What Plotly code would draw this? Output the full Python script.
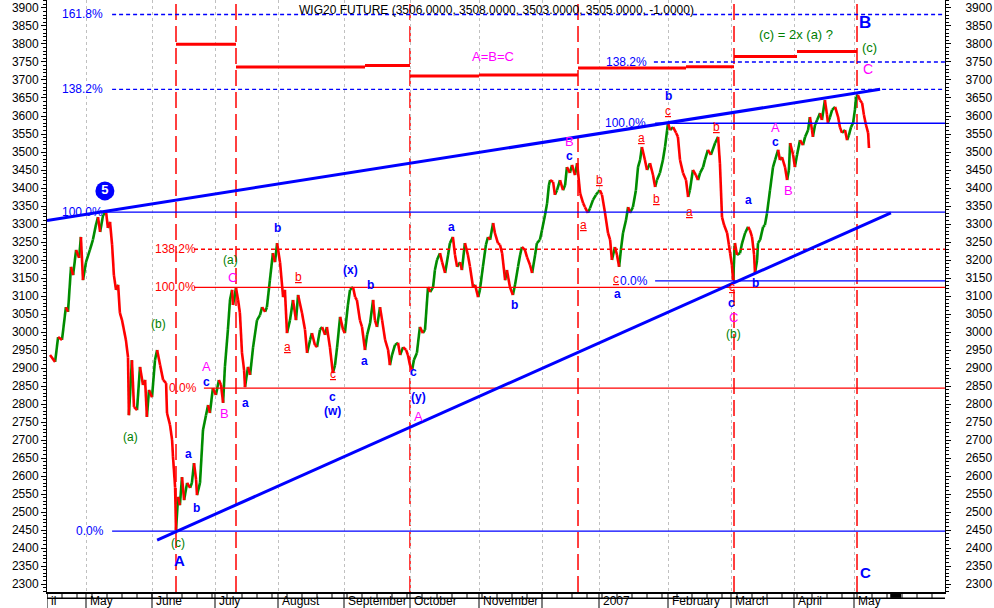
import plotly.graph_objects as go

# ---------------- data (trading-day index, price) ----------------
day = [1.0, 2.7, 3.7, 5.0, 6.3, 7.0, 8.0, 8.7, 9.7, 10.7, 11.3, 12.0, 13.0, 14.3, 15.3, 16.3, 17.0, 17.7, 18.7, 19.7,
       20.3, 21.0, 21.7, 22.3, 23.0, 23.7, 24.3, 25.0, 26.3, 27.0, 27.3, 28.3, 29.0, 30.0, 31.0, 32.0, 32.7, 33.3, 34.0, 35.0,
       36.0, 36.7, 37.7, 38.7, 39.7, 40.0, 41.0, 41.7, 42.0, 42.7, 43.0, 43.7, 44.3, 45.0, 45.7, 46.7, 47.7, 48.3, 49.0, 49.7,
       50.0, 51.0, 52.0, 53.0, 53.7, 54.3, 55.3, 56.3, 57.3, 58.0, 58.7, 59.3, 60.3, 61.0, 61.7, 62.0, 63.0, 63.7, 64.3, 65.0,
       65.7, 66.0, 67.0, 67.7, 68.7, 70.0, 71.0, 71.7, 72.7, 73.3, 74.3, 75.3, 76.0, 76.7, 77.7, 78.7, 79.3, 80.0, 81.0, 82.0,
       83.0, 83.7, 85.0, 86.0, 86.7, 87.7, 88.3, 89.3, 90.0, 91.0, 91.7, 92.7, 93.3, 94.3, 95.3, 96.0, 96.7, 97.7, 98.7, 99.3,
       100.3, 101.0, 102.0, 102.7, 103.3, 104.3, 105.0, 106.0, 106.7, 107.7, 108.7, 109.3, 110.0, 111.0, 111.7, 112.7, 113.7, 114.3, 115.0, 116.0,
       117.0, 117.7, 118.7, 119.7, 120.3, 121.0, 121.7, 122.3, 123.3, 124.3, 125.3, 126.0, 127.0, 127.7, 128.7, 129.3, 130.0, 131.0, 131.7, 132.7,
       133.7, 134.3, 135.3, 136.0, 136.7, 137.7, 138.3, 139.3, 140.3, 141.0, 142.0, 142.7, 143.7, 144.3, 145.3, 146.3, 147.0, 147.7, 148.7, 149.3,
       150.3, 151.0, 151.7, 152.7, 153.3, 154.3, 155.3, 156.0, 157.0, 157.7, 158.3, 159.3, 160.0, 161.0, 161.7, 162.7, 163.3, 164.3, 165.0, 166.0,
       166.7, 167.3, 167.7, 168.7, 169.3, 170.0, 171.0, 172.0, 172.7, 173.3, 174.3, 175.0, 176.0, 176.7, 177.7, 178.7, 179.3, 180.3, 181.0, 182.0,
       183.0, 183.7, 184.3, 185.0, 186.0, 187.0, 187.7, 188.3, 189.3, 190.0, 190.7, 191.3, 192.0, 193.0, 193.7, 194.3, 195.3, 196.3, 197.0, 197.7,
       198.3, 199.3, 200.0, 201.0, 202.0, 202.7, 203.3, 204.3, 205.3, 206.0, 206.7, 207.0, 207.7, 208.7, 209.7, 210.3, 211.0, 212.0, 213.0, 213.7,
       214.3, 215.3, 216.3, 217.0, 217.7, 218.7, 219.3, 220.3, 221.3, 222.7, 223.7, 224.3, 225.0, 225.7, 226.7, 227.3, 227.7, 228.3, 228.7, 229.3,
       230.0, 231.0, 231.7, 232.7, 233.7, 234.3, 235.0, 235.7, 236.0, 236.7, 237.0, 237.7, 238.7, 239.3, 240.0, 241.0, 242.0, 242.7, 243.7, 244.3,
       245.0, 246.0, 246.7, 247.3, 247.7, 248.7, 249.3, 250.0, 251.0, 252.0, 252.7, 253.7, 254.3, 255.0, 255.3, 256.0, 256.7, 257.7, 258.3, 259.3,
       260.0, 260.3, 261.0, 261.7, 262.7, 263.7, 264.3, 265.0, 266.0, 266.7, 267.3, 268.0, 268.7, 269.3, 269.7, 270.3, 271.0, 271.7, 272.3, 273.0,
       273.7, 274.0]
price = [2936, 2917, 2986, 2978, 3069, 3056, 3181, 3158, 3228, 3206, 3264, 3144, 3194, 3228, 3256, 3297, 3319, 3278, 3325, 3333,
         3289, 3306, 3242, 3158, 3117, 3131, 3053, 3033, 2978, 2930, 2769, 2922, 2792, 2783, 2903, 2853, 2867, 2764, 2839, 2819,
         2922, 2950, 2908, 2867, 2858, 2775, 2742, 2700, 2653, 2569, 2450, 2542, 2519, 2597, 2533, 2581, 2567, 2581, 2636, 2589,
         2547, 2581, 2728, 2769, 2797, 2775, 2844, 2825, 2867, 2853, 2803, 2903, 3006, 3089, 3117, 3075, 3122, 3089, 3053, 2942,
         2894, 2847, 2903, 2881, 2958, 3033, 3047, 3069, 3056, 3069, 3144, 3219, 3194, 3247, 3192, 3097, 3117, 2997, 3033, 3089,
         3033, 3103, 3053, 3006, 2942, 2978, 2997, 2964, 2958, 3006, 3014, 2992, 3014, 2958, 2886, 2908, 2958, 3042, 3006, 2997,
         3075, 3117, 3125, 3097, 3089, 3033, 3014, 2950, 2992, 3025, 3089, 3033, 3014, 3069, 3033, 2978, 2950, 2908, 2936, 2964,
         2970, 2936, 2958, 2950, 2936, 2908, 2894, 2922, 2942, 3014, 2997, 3006, 3125, 3111, 3125, 3172, 3200, 3219, 3194, 3164,
         3214, 3247, 3264, 3214, 3181, 3194, 3172, 3247, 3214, 3181, 3125, 3131, 3097, 3117, 3181, 3242, 3264, 3256, 3303, 3275,
         3247, 3242, 3219, 3144, 3172, 3125, 3103, 3131, 3181, 3214, 3236, 3228, 3208, 3186, 3164, 3214, 3247, 3256, 3283, 3325,
         3358, 3408, 3422, 3417, 3381, 3394, 3422, 3394, 3408, 3458, 3442, 3464, 3436, 3469, 3386, 3358, 3347, 3331, 3344, 3367,
         3381, 3389, 3394, 3381, 3331, 3275, 3256, 3200, 3236, 3214, 3181, 3228, 3275, 3311, 3347, 3331, 3347, 3394, 3458, 3478,
         3514, 3478, 3450, 3469, 3436, 3403, 3422, 3442, 3478, 3514, 3561, 3581, 3561, 3569, 3553, 3542, 3478, 3442, 3422, 3375,
         3394, 3450, 3436, 3422, 3442, 3458, 3478, 3506, 3492, 3525, 3542, 3469, 3319, 3297, 3275, 3242, 3219, 3186, 3144, 3247,
         3214, 3219, 3247, 3275, 3292, 3283, 3264, 3214, 3164, 3200, 3247, 3256, 3292, 3297, 3330, 3394, 3458, 3478, 3506, 3478,
         3486, 3458, 3422, 3450, 3525, 3492, 3458, 3492, 3533, 3519, 3542, 3561, 3597, 3561, 3542, 3575, 3589, 3608, 3589, 3644,
         3603, 3581, 3597, 3617, 3625, 3597, 3569, 3553, 3561, 3533, 3547, 3569, 3581, 3617, 3653, 3658, 3644, 3636, 3603, 3575,
         3553, 3511]

month_days = [0, 13, 35, 56, 77, 99, 121, 144, 165, 184, 207, 228, 249, 269]
month_labels = ["il", "May", "June", "July", "August", "September", "October", "November", "", "2007",
                "February", "March", "April", "May"]

event_days = [43, 63, 121, 177, 229, 270]          # red dashed verticals

step_from = [43, 63, 106, 121, 144, 177, 213, 229, 250]
step_to = [63, 106, 121, 144, 177, 213, 229, 250, 270]
step_level = [3799, 3736, 3740, 3711, 3714, 3733, 3737, 3765, 3779]

upper_t = [0, 277.7]
upper_p = [3310, 3674]
lower_t = [36.7, 281.3]
lower_p = [2422, 3331]

# horizontal retracement levels
fib_level = [3882, 3674, 3333, 2447, 3750, 3580, 3142, 3230, 3124, 2844]
fib_start = [21.7, 21.7, 17.7, 21.7, 202.3, 202.7, 202.7, 49, 49, 52.3]
fib_color = ["blue", "blue", "blue", "blue", "blue", "blue", "blue", "red", "red", "red"]
fib_dash = ["dash", "dash", "solid", "solid", "dash", "solid", "solid", "dash", "solid", "solid"]
fib_label = ["161.8%", "138.2%", "100.0%", "0.0%", "138.2%", "100.0%", "0.0%", "138.2%", "100.0%", "0.0%"]
fib_label_day = [4.3, 4.3, 4.3, 9.0, 185.7, 185.3, 190.3, 35.3, 35.3, 40.0]

X_END = 299.33
Y_RANGE = [2277.8, 3922.2]
FONT = "Liberation Sans, Arial, sans-serif"
GREEN = "#008c00"

fig = go.Figure()

gx, gy, rx, ry = [], [], [], []
for i in range(1, len(day)):
    sx = [day[i - 1], day[i], None]
    sy = [price[i - 1], price[i], None]
    if price[i] >= price[i - 1]:
        gx += sx; gy += sy
    else:
        rx += sx; ry += sy
fig.add_trace(go.Scatter(x=gx, y=gy, mode="lines", line=dict(color=GREEN, width=2.6), hoverinfo="skip"))
fig.add_trace(go.Scatter(x=rx, y=ry, mode="lines", line=dict(color="#ff0000", width=2.6), hoverinfo="skip"))

for lv, st, c, d in zip(fib_level, fib_start, fib_color, fib_dash):
    fig.add_trace(go.Scatter(x=[st, X_END], y=[lv, lv], mode="lines",
                             line=dict(color="#0000ff" if c == "blue" else "#ff0000", width=1.4,
                                       dash="4px,3px" if d == "dash" else "solid"), hoverinfo="skip"))

for a, b, lv in zip(step_from, step_to, step_level):
    fig.add_trace(go.Scatter(x=[a, b], y=[lv, lv], mode="lines", line=dict(color="#ff0000", width=3),
                             hoverinfo="skip"))

fig.add_trace(go.Scatter(x=upper_t, y=upper_p, mode="lines", line=dict(color="#0000ff", width=3), hoverinfo="skip"))
fig.add_trace(go.Scatter(x=lower_t, y=lower_p, mode="lines", line=dict(color="#0000ff", width=3), hoverinfo="skip"))

fig.add_trace(go.Scatter(x=[19.3], y=[3392], mode="markers+text", text=["<b>5</b>"],
                         textposition="middle center", textfont=dict(color="white", size=13, family=FONT),
                         marker=dict(size=19, color="#0000ff"), hoverinfo="skip"))

fig.add_trace(go.Scatter(x=[0], y=[3000], yaxis="y2", mode="markers", marker=dict(opacity=0), hoverinfo="skip"))

shapes = []
for d in event_days:
    shapes.append(dict(type="line", xref="x", yref="paper", x0=d, x1=d, y0=0, y1=1,
                       line=dict(color="#ff0000", width=1.5, dash="16px,6px"), layer="below"))
for d in month_days:
    shapes.append(dict(type="line", xref="x", yref="paper", x0=d, x1=d, y0=0, y1=-0.03,
                       line=dict(color="black", width=1)))
for d in range(0, 300, 5):
    shapes.append(dict(type="line", xref="x", yref="paper", x0=d, x1=d, y0=0, y1=-0.0105,
                       line=dict(color="black", width=1)))
shapes.append(dict(type="line", xref="paper", yref="paper", x0=0, x1=1, y0=-0.0105, y1=-0.0105,
                   line=dict(color="black", width=1.5)))
shapes.append(dict(type="rect", xref="paper", yref="paper", x0=0.939, x1=0.951, y0=-0.002, y1=-0.010,
                   fillcolor="black", line=dict(width=0)))

ann = []


def lab(t, p, text, color, size=12, bold=False, u=False, xanchor="center"):
    s = text
    if u:
        s = "<u>" + s + "</u>"
    if bold:
        s = "<b>" + s + "</b>"
    ann.append(dict(x=t, y=p, xref="x", yref="y", text=s, showarrow=False, xanchor=xanchor, yanchor="middle",
                    font=dict(color=color, size=size, family=FONT)))


BLUE = "#0000ff"
MAG = "#ff00ff"
RED = "#ff0000"
LG = "#008000"

# month labels below the axis band
for d, m in zip(month_days, month_labels):
    if m:
        ann.append(dict(x=d + 0.6, y=-9 / 592, xref="x", yref="paper", text=m, showarrow=False,
                        xanchor="left", yanchor="middle", font=dict(color="black", size=12, family=FONT)))

for lbl, t, lv, c in zip(fib_label, fib_label_day, fib_level, fib_color):
    lab(t, lv, lbl, BLUE if c == "blue" else RED, xanchor="left")

lab(27.7, 2708, "(a)", LG)
lab(37.0, 3022, "(b)", LG)
lab(43.7, 2414, "(c)", LG)
lab(44.3, 2364, "A", BLUE, size=15, bold=True)
lab(47.3, 2661, "a", BLUE, bold=True)
lab(49.7, 2511, "b", BLUE, bold=True)
lab(53.0, 2903, "A", MAG, size=13)
lab(53.0, 2860, "c", BLUE, bold=True)
lab(59.0, 2775, "B", MAG, size=13)
lab(61.3, 3199, "(a)", LG)
lab(61.7, 3152, "C", MAG, size=13)
lab(66.0, 2803, "a", BLUE, bold=True)
lab(76.7, 3289, "b", BLUE, bold=True)
lab(83.7, 3153, "b", RED, u=True)
lab(80.3, 2958, "a", RED, u=True)
lab(95.3, 2884, "c", RED, u=True)
lab(95.0, 2819, "c", BLUE, bold=True)
lab(95.0, 2781, "(w)", BLUE, bold=True)
lab(101.0, 3172, "(x)", BLUE, bold=True)
lab(107.7, 3131, "b", BLUE, bold=True)
lab(105.7, 2919, "a", BLUE, bold=True)
lab(122.0, 2889, "c", BLUE, bold=True)
lab(123.7, 2819, "(y)", BLUE, bold=True)
lab(123.7, 2764, "A", MAG, size=13)
lab(134.7, 3292, "a", BLUE, bold=True)
lab(155.7, 3075, "b", BLUE, bold=True)
lab(174.0, 3529, "B", MAG, size=13)
lab(174.0, 3489, "c", BLUE, bold=True)
lab(178.7, 3297, "a", RED, u=True)
lab(184.3, 3422, "b", RED, u=True)
lab(189.7, 3147, "c", RED, u=True)
lab(190.0, 3106, "a", BLUE, bold=True)
lab(198.0, 3539, "a", RED, u=True)
lab(203.0, 3369, "b", RED, u=True)
lab(207.0, 3655, "b", BLUE, bold=True)
lab(207.0, 3614, "c", RED, u=True)
lab(214.3, 3333, "a", RED, u=True)
lab(223.3, 3569, "b", RED, u=True)
lab(233.7, 3367, "a", BLUE, bold=True)
lab(228.3, 3126, "c", RED, u=True)
lab(228.3, 3080, "c", BLUE, bold=True)
lab(228.7, 3040, "C", MAG, size=13)
lab(228.7, 2995, "(b)", LG)
lab(236.0, 3136, "b", BLUE, bold=True)
lab(242.7, 3569, "A", MAG, size=13)
lab(242.7, 3529, "c", BLUE, bold=True)
lab(247.0, 3394, "B", MAG, size=13)
lab(272.7, 3861, "B", BLUE, size=17, bold=True)
lab(274.0, 3789, "(c)", LG, size=13)
lab(273.7, 3731, "C", MAG, size=14)
lab(272.7, 2331, "C", BLUE, size=15, bold=True)
lab(148.7, 3764, "A=B=C", MAG, size=13)
lab(249.7, 3825, "(c) = 2x (a) ?", LG, size=13)

ann.append(dict(x=(496 - 47) / 898, y=1 - 10 / 592, xref="paper", yref="paper",
                text="WIG20 FUTURE (3506.0000, 3508.0000, 3503.0000, 3505.0000, -1.0000)",
                showarrow=False, xanchor="center", yanchor="middle",
                font=dict(color="black", size=12, family=FONT)))

yaxis_common = dict(range=Y_RANGE, tick0=2300, dtick=50, ticks="outside", ticklen=5, tickcolor="black",
                    showgrid=False, zeroline=False, showline=True, linecolor="black", linewidth=1,
                    automargin=False,
                    tickfont=dict(size=12, color="black", family=FONT),
                    minor=dict(ticks="outside", ticklen=3, dtick=10, tick0=2300, tickcolor="black", showgrid=False))

fig.update_layout(
    width=994, height=608, margin=dict(l=47, r=49, t=0, b=16, autoexpand=False),
    plot_bgcolor="white", paper_bgcolor="white", showlegend=False,
    font=dict(family=FONT, size=12, color="black"),
    xaxis=dict(range=[0, X_END], tickvals=month_days, ticktext=month_labels, ticks="", showticklabels=False,
               automargin=False,
               showgrid=True, gridcolor="#c0c0c0", griddash="3px,3px", gridwidth=1,
               showline=True, linecolor="black", linewidth=2, zeroline=False),
    yaxis=yaxis_common,
    yaxis2=dict(overlaying="y", side="right", ticklabelstandoff=12, **yaxis_common),
    shapes=shapes, annotations=ann,
)

fig.write_html("out.html", config={"displayModeBar": False},
               post_script="document.body.style.margin='0px';document.body.style.overflow='hidden';")
